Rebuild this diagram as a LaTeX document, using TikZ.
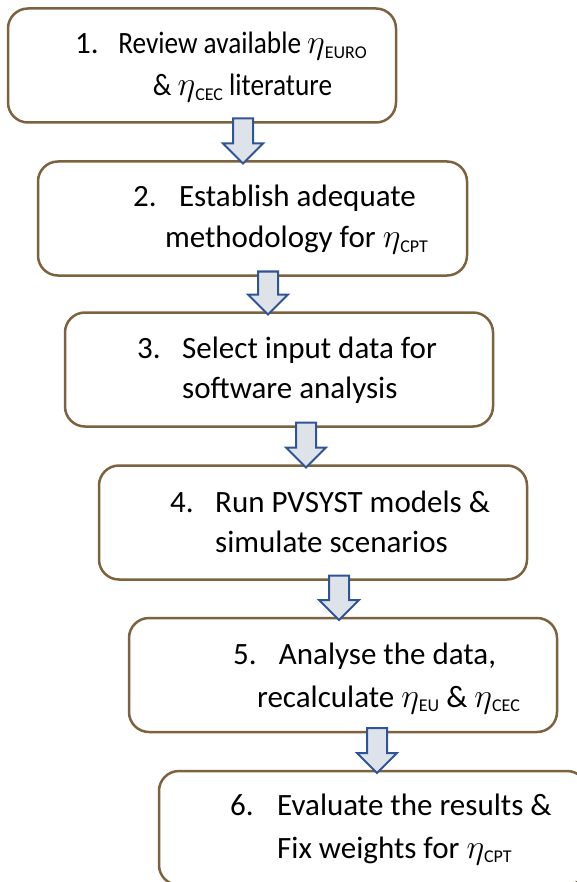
\RequirePackage{fix-cm}
\documentclass[tikz,border=0pt]{standalone}
\usepackage{fontspec}
\setmainfont{Carlito}
\newfontfamily\narrowfont[FakeStretch=0.88]{Carlito}
\usetikzlibrary{calc}
\definecolor{boxbrown}{RGB}{124,98,62}
\definecolor{arrblue}{RGB}{47,85,151}
\definecolor{arrfill}{RGB}{222,227,234}
\newcommand{\etasub}[1]{{\fontsize{34}{34}\selectfont$\eta$}\raisebox{-4.5pt}{\normalfont\fontsize{18}{18}\selectfont #1}}

\begin{document}
\begin{tikzpicture}[
    x=1pt, y=-1pt,
    stepbox/.style={rectangle, rounded corners=20pt, draw=boxbrown, line width=2.5pt,
        outer sep=0pt, inner sep=0pt, minimum height=114},
    num/.style={anchor=base west, inner sep=0pt, font=\fontsize{31}{37}\selectfont},
    ctxt/.style={anchor=base, inner sep=0pt, font=\fontsize{31}{37}\selectfont},
    ltxt/.style={anchor=base west, inner sep=0pt, font=\fontsize{31}{37}\selectfont},
    narrow/.style={font=\fontsize{31}{37}\narrowfont},
    blockarr/.style={draw=arrblue, fill=arrfill, line width=2pt, line join=miter}
  ]
  \useasboundingbox (0,0) rectangle (576,882);

  % boxes
  \node[stepbox, minimum width=388] (b1) at (202,65.5) {};
  \node[stepbox, minimum width=429] (b2) at (252.5,218.5) {};
  \node[stepbox, minimum width=428] (b3) at (279,369.5) {};
  \node[stepbox, minimum width=428] (b4) at (313,522.5) {};
  \node[stepbox, minimum width=428] (b5) at (343,675) {};
  \node[stepbox, minimum width=428] (b6) at (373,828) {};

  % texts
  \node[num] (n1) at (75,54) {1.};
  \node[ctxt, narrow] (t1a) at (242.5,54) {Review available \etasub{EURO}};
  \node[ctxt, narrow] (t1b) at (242.5,96) {\& \etasub{CEC} literature};

  \node[num] (n2) at (133,207) {2.};
  \node[ctxt] (t2a) at (297.5,207) {Establish adequate};
  \node[ctxt] (t2b) at (296.5,248) {methodology for \etasub{CPT}};

  \node[num] (n3) at (137,358) {3.};
  \node[ltxt] (t3a) at (182,358) {Select input data for};
  \node[ltxt] (t3b) at (182,398) {software analysis};

  \node[num] (n4) at (170,512) {4.};
  \node[ltxt] (t4a) at (215,512) {Run PVSYST models \&};
  \node[ltxt] (t4b) at (215,552) {simulate scenarios};

  \node[num] (n5) at (233,664) {5.};
  \node[ctxt] (t5a) at (387.5,664) {Analyse the data,};
  \node[ctxt] (t5b) at (388.5,707) {recalculate \etasub{EU} \& \etasub{CEC}};

  \node[num] (n6) at (230,815) {6.};
  \node[ltxt] (t6a) at (277,815) {Evaluate the results \&};
  \node[ltxt] (t6b) at (277,858) {Fix weights for \etasub{CPT}};

  % arrows
  \foreach \ba/\bb/\ax in {b1/b2/243, b2/b3/268, b3/b4/306, b4/b5/339, b5/b6/377} {
    \path (\ba.south -| \ax,0) coordinate (top) (\bb.north -| \ax,0) coordinate (tip);
    \draw[blockarr] ($(top)+(-10,-4)$) -- ($(top)+(10,-4)$) -- ($(tip)+(10,-18)$)
      -- ($(tip)+(20,-18)$) -- ($(tip)+(0,2)$) -- ($(tip)+(-20,-18)$)
      -- ($(tip)+(-10,-18)$) -- cycle;
  }
\end{tikzpicture}
\end{document}
